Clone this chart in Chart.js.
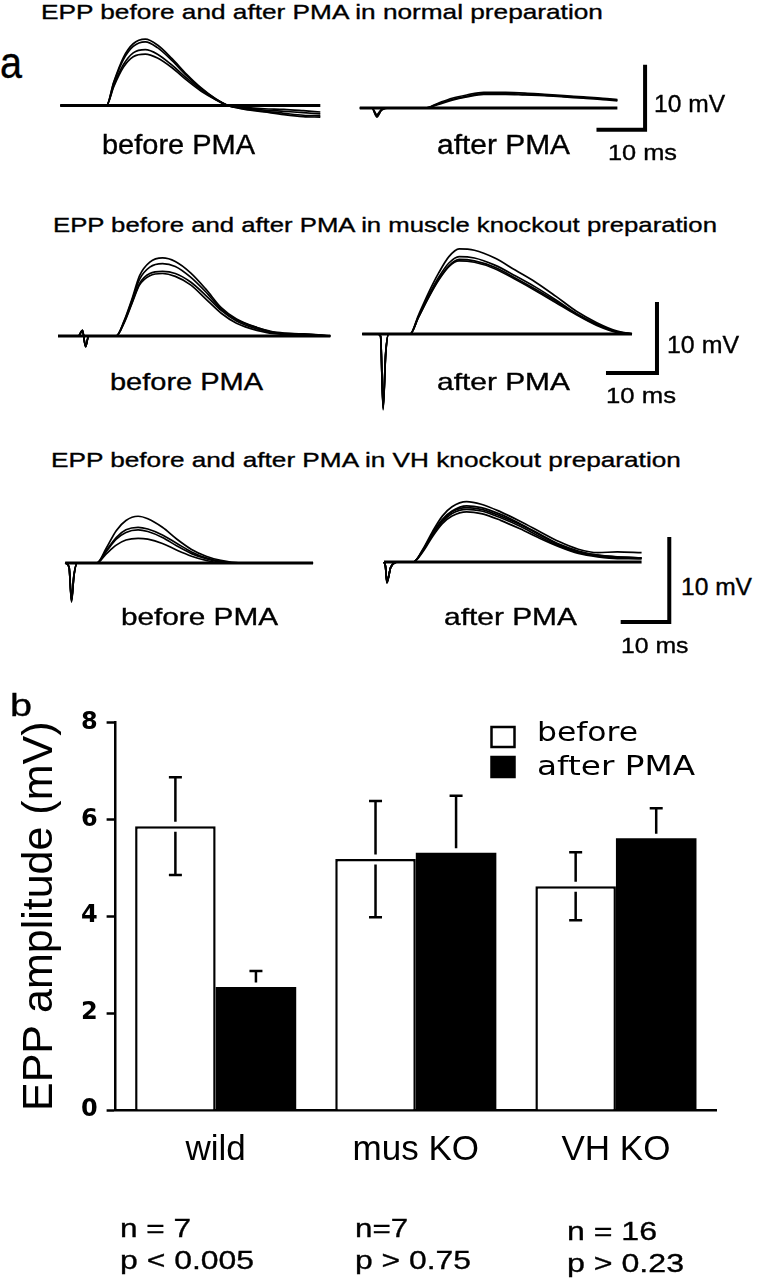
<!DOCTYPE html>
<html>
<head>
<meta charset="utf-8">
<script src="https://cdn.jsdelivr.net/npm/chart.js"></script>
<style>
  body { margin: 0; background: #fff; }
  #page { position: relative; width: 758px; height: 1280px; overflow: hidden; background: #fff; }
  #page canvas { position: absolute; }
  .txt { position: absolute; white-space: nowrap; color: #000; transform-origin: 0 0; -webkit-text-stroke: 0.35px #000; }
</style>
</head>
<body>
<div id="page">
  <canvas id="barChart" width="758" height="600" style="left:0;top:680px"></canvas>
</div>
<script>
// ---- panel b: EPP amplitude (mV) ----
const groups = ['wild', 'mus KO', 'VH KO'];
const beforeMean = [5.86, 5.18, 4.62];
const beforeErr = [1.01, 1.2, 0.7];
const afterMean = [2.54, 5.31, 5.61];
const afterErr = [0.33, 1.18, 0.62];
const nLabels = ['n = 7', 'n=7', 'n = 16'];
const pLabels = ['p < 0.005', 'p > 0.75', 'p > 0.23'];

// ---- panel a: EPP traces (ms, mV) ----
// normal preparation
const times1b = [0, 5, 9.5, 11, 13, 15, 17.5, 20, 23, 26, 29, 32, 34.5, 38, 42, 46, 50, 53.5];
const normBefore = [
  [0, 0, 0, 3.6, 7.4, 9.5, 10.2, 9.3, 7.2, 4.8, 2.7, 1.0, 0, -0.6, -1.0, -1.4, -1.7, -1.8],
  [0, 0, 0, 3.5, 7.1, 9.1, 9.8, 8.9, 6.9, 4.6, 2.6, 1.0, 0, -0.5, -0.9, -1.2, -1.5, -1.6],
  [0, 0, 0, 3.1, 6.3, 8.1, 8.6, 7.9, 6.2, 4.2, 2.4, 0.9, 0, -0.4, -0.7, -0.9, -1.1, -1.3],
  [0, 0, 0, 2.9, 5.9, 7.5, 7.9, 7.3, 5.8, 3.9, 2.2, 0.9, 0, -0.3, -0.5, -0.6, -0.8, -1.0]
];
const times1a = [0, 2.5, 3.5, 4.5, 6, 10, 13.5, 16, 19, 22, 25.5, 30, 34, 38, 42, 46, 50, 53];
const normAfter = [
  [0, 0, -1.4, -0.3, 0, 0, 0, 0.7, 1.5, 2.0, 2.4, 2.4, 2.3, 2.1, 1.9, 1.7, 1.5, 1.3],
  [0, 0, -1.2, -0.3, 0, 0, 0, 0.6, 1.3, 1.8, 2.2, 2.2, 2.1, 2.0, 1.8, 1.6, 1.4, 1.2],
  [0, 0, -1.0, -0.2, 0, 0, 0, 0.5, 1.2, 1.7, 2.1, 2.1, 2.0, 1.9, 1.7, 1.5, 1.3, 1.1]
];
// muscle knockout preparation
const times2b = [0, 4, 4.8, 5.4, 6, 8, 11.4, 13, 14.5, 16, 18, 20.5, 23, 26, 29, 32, 35, 39, 43, 48, 53.4];
const musBefore = [
  [0, 0, 0.8, -1.5, 0, 0, 0, 2.2, 5.2, 8.5, 10.4, 11.0, 10.5, 8.9, 6.6, 4.0, 2.4, 1.2, 0.4, 0.3, 0],
  [0, 0, 0.8, -1.5, 0, 0, 0, 2.1, 5.0, 8.0, 9.7, 10.2, 9.8, 8.3, 6.2, 3.8, 2.3, 1.2, 0.5, 0.3, 0],
  [0, 0, 0.8, -1.5, 0, 0, 0, 2.0, 4.7, 7.4, 8.8, 9.1, 8.8, 7.6, 5.7, 3.6, 2.1, 1.0, 0.4, 0.2, 0],
  [0, 0, 0.8, -1.5, 0, 0, 0, 1.9, 4.6, 7.2, 8.5, 8.8, 8.4, 7.2, 5.2, 3.2, 1.8, 0.8, 0.3, 0.2, 0]
];
const times2a = [0, 3, 3.6, 4.1, 4.6, 5.2, 7, 9.4, 11, 13, 15, 17, 19, 22, 26, 30, 34, 38, 42, 46, 50, 52.9];
const musAfter = [
  [0, 0, -0.3, -10.7, -3, 0, 0, 0, 2.6, 5.8, 8.6, 10.9, 12.0, 11.8, 10.7, 9.0, 7.3, 5.3, 3.2, 1.6, 0.4, 0],
  [0, 0, -0.3, -10.5, -2.8, 0, 0, 0, 2.4, 5.4, 8.0, 10.0, 10.9, 10.7, 9.7, 8.2, 6.6, 4.8, 2.9, 1.4, 0.3, 0],
  [0, 0, -0.3, -10.4, -2.8, 0, 0, 0, 2.3, 5.2, 7.7, 9.6, 10.5, 10.3, 9.4, 7.9, 6.3, 4.6, 2.8, 1.3, 0.3, 0],
  [0, 0, -0.3, -10.2, -2.7, 0, 0, 0, 2.3, 5.1, 7.6, 9.5, 10.3, 10.1, 9.2, 7.7, 6.1, 4.4, 2.7, 1.2, 0.2, 0]
];
// VH knockout preparation
const times3b = [0, 0.8, 1.3, 1.8, 2.5, 4, 6.5, 8.5, 10.5, 12.5, 15, 17, 20, 23, 26, 29, 32, 36, 42, 51];
const vhBefore = [
  [0, -0.5, -4.6, -1.5, 0, 0, 0, 1.8, 3.8, 5.0, 5.5, 5.2, 4.2, 2.8, 1.6, 0.8, 0.3, 0, 0, 0],
  [0, -0.5, -4.5, -1.5, 0, 0, 0, 1.5, 3.0, 3.9, 4.2, 4.0, 3.3, 2.3, 1.3, 0.6, 0.2, 0, 0, 0],
  [0, -0.5, -4.4, -1.4, 0, 0, 0, 1.4, 2.8, 3.6, 3.9, 3.7, 3.0, 2.0, 1.1, 0.5, 0.1, 0, 0, 0],
  [0, -0.5, -4.3, -1.4, 0, 0, 0, 1.1, 2.1, 2.7, 2.9, 2.8, 2.3, 1.5, 0.8, 0.3, 0, 0, 0, 0]
];
const times3a = [0, 0.3, 0.6, 1.4, 3, 6, 8, 10, 12, 14, 17, 20, 24, 28, 32, 36, 40, 44, 48, 53];
const vhAfter = [
  [0, -0.5, -2.5, -0.6, 0, 0, 1.5, 3.6, 5.4, 6.5, 7.1, 6.8, 5.9, 4.8, 3.6, 2.4, 1.5, 1.1, 1.2, 1.1],
  [0, -0.5, -2.4, -0.6, 0, 0, 1.4, 3.4, 5.0, 6.0, 6.6, 6.4, 5.6, 4.5, 3.3, 2.1, 1.3, 0.8, 0.6, 0.5],
  [0, -0.5, -2.4, -0.6, 0, 0, 1.4, 3.3, 4.9, 5.9, 6.4, 6.2, 5.4, 4.4, 3.2, 2.0, 1.2, 0.8, 0.6, 0.5],
  [0, -0.5, -2.3, -0.6, 0, 0, 1.3, 3.2, 4.7, 5.7, 6.2, 6.0, 5.2, 4.2, 3.0, 1.9, 1.1, 0.7, 0.5, 0.4],
  [0, -0.5, -2.3, -0.6, 0, 0, 1.2, 3.0, 4.5, 5.4, 5.9, 5.7, 4.9, 3.9, 2.8, 1.8, 1.0, 0.6, 0.4, 0.4]
];
// scale bars: 10 ms x 10 mV, corners in (ms, mV)
const scaleBar1 = [[48.7, -3.35], [58.7, -3.35], [58.7, 6.65]];
const scaleBar2 = [[47.8, -5.5], [57.8, -5.5], [57.8, 4.5]];
const scaleBar3 = [[48.7, -7.06], [58.7, -7.06], [58.7, 2.94]];

const SANS = "'Liberation Sans', Arial, sans-serif";
const VERD = "'DejaVu Sans', Verdana, sans-serif";
const page = document.getElementById('page');
const measureCtx = document.createElement('canvas').getContext('2d');

// text squeezed/stretched to the width it has in the figure
function addText(str, left, baseline, size, width, family) {
  const fam = family || SANS;
  measureCtx.font = size + 'px ' + fam;
  const k = width / measureCtx.measureText(str).width;
  const d = document.createElement('div');
  d.className = 'txt';
  d.textContent = str;
  d.style.font = size + 'px/' + size + 'px ' + fam;
  d.style.left = left + 'px';
  d.style.top = (baseline - 0.846 * size) + 'px';
  d.style.transform = 'scaleX(' + k.toFixed(3) + ')';
  page.appendChild(d);
}

function traceChart(g, times, traces, end, scaleBar) {
  const c = document.createElement('canvas');
  const left = Math.round(g.x0 + g.tMin * g.pxMs);
  const top = Math.round(g.y0 - g.vMax * g.pxMv);
  const w = Math.round((g.tMax - g.tMin) * g.pxMs);
  const h = Math.round((g.vMax - g.vMin) * g.pxMv);
  const tMin = (left - g.x0) / g.pxMs, vMax = (g.y0 - top) / g.pxMv;
  c.width = w; c.height = h;
  c.style.left = left + 'px'; c.style.top = top + 'px';
  page.appendChild(c);

  const datasets = traces.map(tr => ({
    data: times.map((t, i) => ({ x: t, y: tr[i] })),
    borderColor: '#000',
    borderWidth: 1.7,
    pointRadius: 0,
    cubicInterpolationMode: 'monotone',
    clip: false
  }));
  datasets.push({
    data: [{ x: 0, y: 0 }, { x: end, y: 0 }],
    borderColor: '#000', borderWidth: 3, pointRadius: 0, clip: false
  });
  if (scaleBar) {
    datasets.push({
      data: scaleBar.map(p => ({ x: p[0], y: p[1] })),
      borderColor: '#000', borderWidth: 4, pointRadius: 0, tension: 0,
      borderJoinStyle: 'miter', clip: false
    });
  }

  new Chart(c, {
    type: 'line',
    data: { datasets: datasets },
    options: {
      responsive: false,
      animation: false,
      events: [],
      layout: { padding: 0 },
      plugins: { legend: { display: false }, tooltip: { enabled: false } },
      scales: {
        x: { type: 'linear', display: false, min: tMin, max: tMin + w / g.pxMs },
        y: { type: 'linear', display: false, min: vMax - h / g.pxMv, max: vMax }
      }
    }
  });
}

traceChart({ x0: 60.3, y0: 105.5, pxMs: 4.86, pxMv: 6.5, tMin: -2, tMax: 56, vMin: -4, vMax: 12 }, times1b, normBefore, 53.5);
traceChart({ x0: 359.8, y0: 108, pxMs: 4.86, pxMv: 6.5, tMin: -2, tMax: 61, vMin: -5, vMax: 8 }, times1a, normAfter, 53, scaleBar1);
traceChart({ x0: 58, y0: 336, pxMs: 5.1, pxMv: 7.1, tMin: -2, tMax: 56, vMin: -3, vMax: 13 }, times2b, musBefore, 53.4);
traceChart({ x0: 362.2, y0: 334, pxMs: 5.1, pxMv: 7.1, tMin: -2, tMax: 60, vMin: -12, vMax: 13.5 }, times2a, musAfter, 52.9, scaleBar2);
traceChart({ x0: 65.2, y0: 563, pxMs: 4.86, pxMv: 8.5, tMin: -2, tMax: 54, vMin: -6, vMax: 7 }, times3b, vhBefore, 51);
traceChart({ x0: 384, y0: 562, pxMs: 4.86, pxMv: 8.5, tMin: -2, tMax: 61, vMin: -8.5, vMax: 8.5 }, times3a, vhAfter, 53, scaleBar3);

// panel a text
addText('a', 0, 78, 44, 22);
addText('EPP before and after PMA in normal preparation', 41, 18.3, 21, 564);
addText('before PMA', 101.7, 155, 27, 153);
addText('after PMA', 437, 155, 27, 133);
addText('10 mV', 654.3, 112.7, 24, 71);
addText('10 ms', 608.3, 161, 22, 69);

addText('EPP before and after PMA in muscle knockout preparation', 53.2, 231.7, 21, 666);
addText('before PMA', 110.1, 390, 24, 153);
addText('after PMA', 437, 390, 24, 133);
addText('10 mV', 666.6, 353.3, 23, 72);
addText('10 ms', 606.1, 404, 22, 70);

addText('EPP before and after PMA in VH knockout preparation', 50.7, 466.7, 21, 632);
addText('before PMA', 120.8, 625, 24, 157);
addText('after PMA', 444.3, 625, 24, 133);
addText('10 mV', 681, 595, 23, 71);
addText('10 ms', 620.7, 653.3, 22, 67.5);

// panel b text
addText('b', 10, 716, 31, 22);
const noteLeft = [119.8, 355, 566.6];
const nWidth = [71, 53, 90];
const pWidth = [134, 116, 117];
const nBase = [1237.3, 1237.3, 1240];
const pBase = [1269.3, 1269.3, 1271.7];
nLabels.forEach((s, i) => addText(s, noteLeft[i], nBase[i], 26, nWidth[i]));
pLabels.forEach((s, i) => addText(s, noteLeft[i], pBase[i], 26, pWidth[i]));

// error bars: whisker broken just around the bar top
const errorBars = {
  id: 'errorBars',
  afterDatasetsDraw(chart) {
    const { ctx } = chart;
    const y = chart.scales.y;
    ctx.save();
    ctx.strokeStyle = '#000';
    ctx.lineWidth = 2.5;
    chart.data.datasets.forEach((ds, i) => {
      chart.getDatasetMeta(i).data.forEach((bar, j) => {
        const v = ds.data[j];
        const cap = 6.5, gap = 4.5;
        const top = y.getPixelForValue(v + ds.errUp[j]);
        ctx.beginPath();
        ctx.moveTo(bar.x, bar.y - gap); ctx.lineTo(bar.x, top);
        ctx.moveTo(bar.x - cap, top); ctx.lineTo(bar.x + cap, top);
        if (ds.errDown) {
          const bot = y.getPixelForValue(v - ds.errDown[j]);
          ctx.moveTo(bar.x, bar.y + gap + 1); ctx.lineTo(bar.x, bot);
          ctx.moveTo(bar.x - cap, bot); ctx.lineTo(bar.x + cap, bot);
        }
        ctx.stroke();
      });
    });
    ctx.restore();
  }
};

// legend box in the upper right of the plot
const boxLegend = {
  id: 'boxLegend',
  afterDraw(chart) {
    const ctx = chart.ctx;
    const items = [
      { text: chart.data.datasets[0].label, fill: '#fff', y: 47, base: 61, width: 101 },
      { text: chart.data.datasets[1].label, fill: '#000', y: 77, base: 95, width: 158 }
    ];
    ctx.save();
    ctx.font = '26px ' + VERD;
    items.forEach(it => {
      ctx.fillStyle = it.fill;
      ctx.fillRect(491.5, it.y, 23, 20);
      ctx.strokeStyle = '#000';
      ctx.lineWidth = 2.5;
      ctx.strokeRect(491.5, it.y, 23, 20);
      const k = it.width / ctx.measureText(it.text).width;
      ctx.save();
      ctx.translate(537, it.base);
      ctx.scale(k, 1);
      ctx.fillStyle = '#000';
      ctx.textBaseline = 'alphabetic';
      ctx.fillText(it.text, 0, 0);
      ctx.restore();
    });
    ctx.restore();
  }
};

new Chart(document.getElementById('barChart'), {
  type: 'bar',
  data: {
    labels: groups,
    datasets: [
      { label: 'before', data: beforeMean, errUp: beforeErr, errDown: beforeErr,
        backgroundColor: '#fff', borderColor: '#000', borderWidth: 2.5 },
      { label: 'after PMA', data: afterMean, errUp: afterErr,
        backgroundColor: '#000', borderColor: '#000', borderWidth: 0 }
    ]
  },
  options: {
    responsive: false,
    animation: false,
    events: [],
    layout: { padding: { top: 42.5, right: 42, left: 0, bottom: 0 } },
    datasets: { bar: { categoryPercentage: 0.805, barPercentage: 1 } },
    plugins: { legend: { display: false }, tooltip: { enabled: false } },
    scales: {
      x: {
        grid: { display: false, drawTicks: false },
        border: { display: true, color: '#000', width: 2.5 },
        ticks: { color: '#000', font: { family: SANS, size: 35 }, padding: 19 },
        afterFit: s => { s.height = 170; }
      },
      y: {
        min: 0, max: 8,
        ticks: { stepSize: 2, color: '#000', font: { family: VERD, weight: 'bold', size: 24 }, padding: 9 },
        grid: { drawOnChartArea: false, drawTicks: true, tickLength: 9, tickWidth: 2.5, tickColor: '#000' },
        border: { display: true, color: '#000', width: 2.5 },
        title: { display: true, text: 'EPP amplitude (mV)', color: '#000',
                 font: { family: SANS, size: 43 }, padding: { top: 14, bottom: 0 } },
        afterFit: s => { s.width = 115.6; }
      }
    }
  },
  plugins: [errorBars, boxLegend]
});
</script>
</body>
</html>
